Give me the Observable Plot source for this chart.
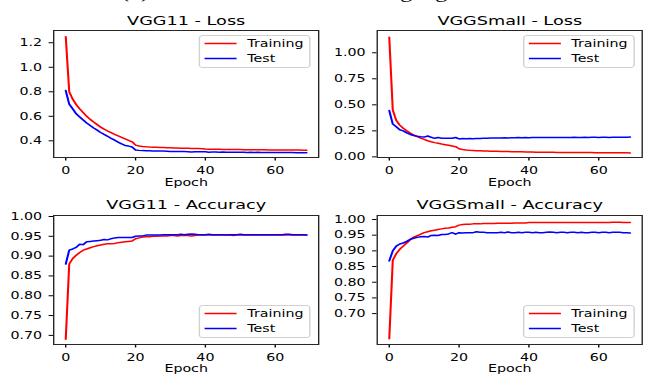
<!DOCTYPE html>
<html><head><meta charset="utf-8">
<script src="https://cdn.jsdelivr.net/npm/d3@7"></script>
<script src="https://cdn.jsdelivr.net/npm/@observablehq/plot@0.6"></script>
<style>
html,body{margin:0;padding:0;background:#fff;overflow:hidden;}
#root{position:relative;width:645px;height:381px;overflow:hidden;background:#fff;}
#cap{position:absolute;left:0;top:0;display:block;overflow:hidden;}
#fig{position:absolute;left:0;top:0;height:381px;transform-origin:0 0;}
.panel{position:absolute;}
.legend{position:absolute;box-sizing:border-box;border:1px solid #d0d0d0;border-radius:3px;background:rgba(255,255,255,0.8);font-family:"DejaVu Sans";font-size:10.3px;color:#000;}
.legend svg{position:absolute;left:0;top:0;overflow:visible;}
.legend .lb{position:absolute;line-height:12px;white-space:nowrap;}
</style></head>
<body><div id="root"><svg id="cap" width="645" height="8"></svg><div id="fig"></div></div>
<script>
// ---- data ----
const caption = "(b) Results on the natural language dataset";
const titles = ["VGG11 - Loss", "VGGSmall - Loss", "VGG11 - Accuracy", "VGGSmall - Accuracy"];
const seriesNames = ["Training", "Test"];
const xLabel = "Epoch";
const xTicks = [0, 20, 40, 60];
const lossTicksVGG11 = [0.4, 0.6, 0.8, 1.0, 1.2];
const lossTicksVGGSmall = [0.00, 0.25, 0.50, 0.75, 1.00];
const accTicks = [0.70, 0.75, 0.80, 0.85, 0.90, 0.95, 1.00];

const vgg11LossTrain = [1.25,0.80,0.74,0.695,0.66,0.63,0.60,0.575,0.553,0.532,0.512,0.495,0.48,0.466,0.452,0.44,0.428,0.416,0.404,0.392,0.365,0.358,0.354,0.351,0.349,0.348,0.347,0.346,0.345,0.344,0.343,0.342,0.341,0.340,0.340,0.339,0.338,0.338,0.337,0.336,0.333,0.332,0.332,0.331,0.331,0.330,0.330,0.330,0.329,0.329,0.329,0.328,0.328,0.328,0.327,0.327,0.327,0.327,0.326,0.326,0.326,0.326,0.326,0.325,0.325,0.325,0.325,0.325,0.324,0.324];
const vgg11LossTest = [0.81,0.70,0.66,0.62,0.595,0.57,0.545,0.525,0.505,0.487,0.468,0.452,0.437,0.42,0.405,0.39,0.375,0.362,0.357,0.35,0.325,0.322,0.320,0.319,0.318,0.317,0.316,0.317,0.316,0.315,0.313,0.313,0.312,0.313,0.312,0.311,0.309,0.311,0.310,0.310,0.311,0.307,0.308,0.308,0.307,0.308,0.306,0.307,0.307,0.306,0.306,0.306,0.305,0.306,0.305,0.306,0.305,0.305,0.304,0.305,0.305,0.304,0.304,0.304,0.304,0.304,0.303,0.303,0.303,0.302];
const vggSmallLossTrain = [1.15,0.45,0.35,0.305,0.275,0.25,0.228,0.21,0.195,0.18,0.168,0.155,0.145,0.137,0.13,0.123,0.117,0.111,0.105,0.098,0.078,0.07,0.066,0.063,0.061,0.059,0.058,0.057,0.056,0.055,0.054,0.053,0.052,0.051,0.051,0.05,0.049,0.049,0.048,0.047,0.046,0.046,0.045,0.045,0.045,0.044,0.044,0.044,0.043,0.043,0.043,0.042,0.042,0.042,0.042,0.041,0.041,0.041,0.041,0.040,0.040,0.040,0.040,0.040,0.039,0.039,0.039,0.039,0.039,0.038];
const vggSmallLossTest = [0.445,0.315,0.29,0.26,0.25,0.23,0.215,0.205,0.198,0.193,0.19,0.20,0.188,0.178,0.186,0.179,0.18,0.179,0.178,0.186,0.172,0.176,0.175,0.176,0.175,0.177,0.177,0.178,0.179,0.181,0.181,0.182,0.182,0.183,0.182,0.184,0.183,0.185,0.184,0.185,0.184,0.186,0.185,0.186,0.185,0.187,0.186,0.186,0.187,0.186,0.187,0.187,0.186,0.188,0.187,0.187,0.188,0.187,0.188,0.188,0.187,0.188,0.188,0.187,0.188,0.188,0.188,0.189,0.188,0.19];
const vgg11AccTrain = [0.69,0.88,0.894,0.902,0.909,0.915,0.918,0.921,0.924,0.926,0.928,0.930,0.931,0.931,0.932,0.934,0.935,0.936,0.937,0.938,0.944,0.946,0.948,0.949,0.949,0.950,0.950,0.951,0.951,0.951,0.952,0.952,0.951,0.952,0.952,0.952,0.951,0.952,0.953,0.953,0.953,0.953,0.953,0.953,0.953,0.953,0.953,0.953,0.952,0.953,0.953,0.953,0.953,0.953,0.953,0.953,0.953,0.953,0.953,0.953,0.953,0.953,0.953,0.954,0.953,0.953,0.953,0.953,0.953,0.953];
const vgg11AccTest = [0.88,0.915,0.918,0.922,0.930,0.929,0.936,0.937,0.938,0.939,0.940,0.942,0.941,0.944,0.946,0.947,0.947,0.947,0.947,0.947,0.950,0.951,0.951,0.953,0.953,0.953,0.953,0.953,0.954,0.954,0.954,0.954,0.954,0.955,0.954,0.955,0.956,0.955,0.954,0.954,0.954,0.955,0.954,0.954,0.954,0.954,0.953,0.954,0.954,0.954,0.955,0.954,0.954,0.954,0.954,0.954,0.954,0.954,0.954,0.954,0.954,0.954,0.954,0.955,0.955,0.954,0.954,0.954,0.954,0.953];
const vggSmallAccTrain = [0.62,0.87,0.891,0.905,0.915,0.925,0.935,0.944,0.948,0.953,0.958,0.961,0.964,0.966,0.968,0.970,0.972,0.973,0.975,0.977,0.982,0.984,0.985,0.985,0.986,0.986,0.986,0.987,0.987,0.987,0.987,0.988,0.988,0.988,0.988,0.988,0.989,0.989,0.989,0.989,0.990,0.990,0.990,0.990,0.990,0.990,0.990,0.990,0.990,0.990,0.990,0.990,0.990,0.990,0.990,0.990,0.990,0.990,0.990,0.990,0.990,0.990,0.990,0.990,0.991,0.991,0.991,0.990,0.990,0.990];
const vggSmallAccTest = [0.868,0.90,0.915,0.922,0.925,0.93,0.937,0.94,0.943,0.945,0.946,0.944,0.949,0.950,0.949,0.952,0.952,0.954,0.958,0.953,0.958,0.957,0.958,0.958,0.958,0.961,0.959,0.959,0.958,0.958,0.958,0.958,0.959,0.958,0.960,0.958,0.958,0.959,0.958,0.959,0.959,0.958,0.959,0.958,0.958,0.959,0.960,0.959,0.958,0.959,0.959,0.958,0.959,0.959,0.958,0.959,0.958,0.958,0.959,0.959,0.958,0.959,0.959,0.958,0.959,0.959,0.959,0.958,0.958,0.957];

// ---- layout ----
const S = 1.38; // horizontal stretch of the original figure
const colors = ["#ff0000", "#0000ff"];
const fig = document.getElementById("fig");
fig.style.width = (645 / S) + "px";
fig.style.transform = `scaleX(${S})`;

// caption (cut off at the top in the original: only the lowest pixels show)
d3.select("#cap").append("text").attr("x", 326).attr("y", -2.5).attr("text-anchor", "middle")
  .attr("font-family", "Liberation Serif").attr("font-size", 17).attr("fill", "#000")
  .attr("textLength", 410).attr("lengthAdjust", "spacingAndGlyphs").text(caption);

const panels = [
  {left: 0, top: 0, width: 322, height: 190, fx0: 53, fx1: 318, fy0: 30, fy1: 157,
   yDomain: [0.264, 1.30], yTicks: lossTicksVGG11, yFormat: ".1f", train: vgg11LossTrain, test: vgg11LossTest,
   title: titles[0], titleDy: -5, labelDy: 28.5, legend: "top"},
  {left: 322, top: 0, width: 323, height: 190, fx0: 377, fx1: 642, fy0: 30, fy1: 157,
   yDomain: [-0.006, 1.214], yTicks: lossTicksVGGSmall, yFormat: ".2f", train: vggSmallLossTrain, test: vggSmallLossTest,
   title: titles[1], titleDy: -5, labelDy: 28.5, legend: "top"},
  {left: 0, top: 190, width: 322, height: 191, fx0: 53, fx1: 318, fy0: 215, fy1: 344,
   yDomain: [0.677, 1.0025], yTicks: accTicks, yFormat: ".2f", train: vgg11AccTrain, test: vgg11AccTest,
   title: titles[2], titleDy: -6, labelDy: 28, legend: "bottom"},
  {left: 322, top: 190, width: 323, height: 191, fx0: 377, fx1: 642, fy0: 215, fy1: 344,
   yDomain: [0.6015, 1.0127], yTicks: accTicks, yFormat: ".2f", train: vggSmallAccTrain, test: vggSmallAccTest,
   title: titles[3], titleDy: -6, labelDy: 28, legend: "bottom"}
];

for (const c of panels) {
  const W = c.width / S;
  const chart = Plot.plot({
    width: W, height: c.height,
    marginLeft: (c.fx0 - c.left) / S, marginRight: (c.left + c.width - c.fx1) / S,
    marginTop: c.fy0 - c.top, marginBottom: c.top + c.height - c.fy1,
    style: {fontFamily: "DejaVu Sans", fontSize: "10.3px", color: "#000", background: "transparent", overflow: "visible"},
    x: {domain: [-3.45, 72.45], ticks: xTicks, tickSize: 3.5, tickPadding: 5.5, tickFormat: d3.format("d"), label: null},
    y: {domain: c.yDomain, ticks: c.yTicks, tickSize: 3.2, tickPadding: 5.2, tickFormat: d3.format(c.yFormat), label: null},
    marks: [
      Plot.lineY(c.train, {x: (d, i) => i, y: d => d, stroke: colors[0], strokeWidth: 1.5}),
      Plot.lineY(c.test, {x: (d, i) => i, y: d => d, stroke: colors[1], strokeWidth: 1.5}),
      Plot.frame({stroke: "#262626", strokeWidth: 1}),
      Plot.text([c.title], {text: d => d, frameAnchor: "top", lineAnchor: "bottom", dy: c.titleDy, fontSize: 12.8, fill: "#000"}),
      Plot.text([xLabel], {text: d => d, frameAnchor: "bottom", lineAnchor: "bottom", dy: c.labelDy, fontSize: 10.3, fill: "#000"})
    ]
  });
  const div = document.createElement("div");
  div.className = "panel";
  div.style.left = (c.left / S) + "px";
  div.style.top = c.top + "px";
  div.style.width = W + "px";
  div.style.height = c.height + "px";
  div.appendChild(chart);
  fig.appendChild(div);

  // legend (matplotlib style)
  const lg = document.createElement("div");
  lg.className = "legend";
  const boxW = 112 / S, boxH = 33;
  const right = c.fx1 - 7;
  lg.style.left = ((right - 112) / S) + "px";
  lg.style.top = Math.round(c.legend === "top" ? c.fy0 + 5 : c.fy1 - 5.7 - boxH) + "px";
  lg.style.width = boxW + "px";
  lg.style.height = boxH + "px";
  const sw = d3.create("svg").attr("width", boxW).attr("height", boxH);
  seriesNames.forEach((name, k) => {
    const cy = k === 0 ? 7.5 : 22.5;
    sw.append("line").attr("x1", 4.5 / S).attr("x2", 36.5 / S).attr("y1", cy).attr("y2", cy)
      .attr("stroke", colors[k]).attr("stroke-width", 1.5);
    const lb = document.createElement("span");
    lb.className = "lb";
    lb.style.left = (47 / S) + "px";
    lb.style.top = (cy - 6.5) + "px";
    lb.textContent = name;
    lg.appendChild(lb);
  });
  lg.appendChild(sw.node());
  fig.appendChild(lg);
}
</script>
</body></html>
